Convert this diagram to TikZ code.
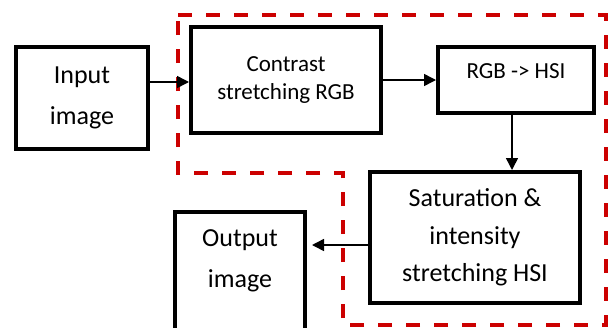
\documentclass[tikz,border=0pt]{standalone}
\usepackage{fontspec}
\setmainfont{Carlito}
\usetikzlibrary{arrows.meta}
\definecolor{dred}{RGB}{204,0,0}
\begin{document}
\begin{tikzpicture}[x=1pt,y=-1pt,
 box/.style={draw=black,line width=4pt,inner sep=0pt,align=center},
 bigA/.style={font=\fontsize{26}{41}\selectfont,align=center},
 bigB/.style={font=\fontsize{26}{37.5}\selectfont,align=center},
 mid/.style={font=\fontsize{23}{28}\selectfont,align=center},
 arr/.style={line width=1.5pt,-{Triangle[length=12pt,width=12pt]}},
 region/.style={draw=dred,line width=4.5pt,dash pattern=on 14pt off 14pt}]
\useasboundingbox (0,0) rectangle (609,327);
\clip (0,0) rectangle (609,327);
\draw[region] (178,15) -- (606,15) -- (606,325) -- (343,325) -- (343,173) -- (178,173) -- cycle;
\node[box,bigA,minimum width=132pt,minimum height=102pt] (in) at (82,98) {Input\\image};
\node[box,mid,minimum width=190pt,minimum height=106pt] (cs) at (286,80) {Contrast\\stretching RGB};
\node[box,mid,minimum width=156pt,minimum height=66pt,text depth=18pt] (rgb) at (516,80) {RGB -> HSI};
\node[box,bigB,minimum width=210pt,minimum height=131pt] (sat) at (475,237.5) {Saturation \&\\intensity\\stretching HSI};
\node[box,minimum width=130pt,minimum height=140pt,anchor=north] (out) at (240,210) {};
\node[bigA] (outtxt) at (240,261) {Output\\image};
\draw[arr] ([yshift=-2pt]cs.west -| in.east) -- ([yshift=-2pt]cs.west);
\draw[arr] (cs.east) -- (rgb.west);
\draw[arr] ([xshift=-4pt]rgb.south) -- ([xshift=-4pt]rgb.south |- sat.north);
\draw[arr,shorten >=5pt] ([yshift=-7.5pt]sat.west) -- ([yshift=-7.5pt]sat.west -| out.east);
\end{tikzpicture}
\end{document}
